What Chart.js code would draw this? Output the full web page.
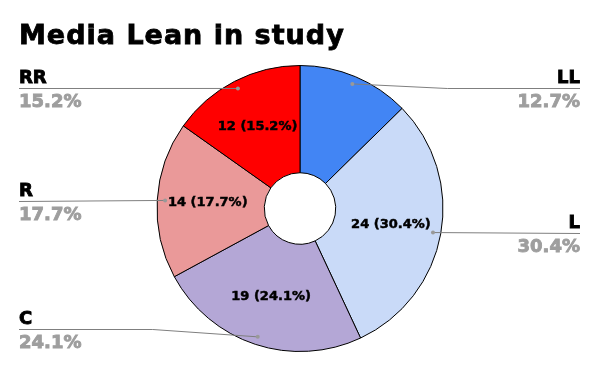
<!DOCTYPE html>
<html><head><meta charset="utf-8">
<script src="https://cdn.jsdelivr.net/npm/chart.js@4/dist/chart.umd.min.js"></script>
<style>html,body{margin:0;padding:0;background:#fff}#wrap{width:600px;height:371px;position:relative}</style>
</head><body><div id="wrap"><canvas id="c" width="600" height="371"></canvas></div>
<script>
const title = 'Media Lean in study';
const categories = ['LL', 'L', 'C', 'R', 'RR'];
const counts = [10, 24, 19, 14, 12];
const percentLabels = ['12.7%', '30.4%', '24.1%', '17.7%', '15.2%'];
const colors = ['#4285f4', '#c9daf8', '#b4a7d6', '#ea9999', '#ff0000'];

// label layout (leader line y and side)
const labelLayout = {
  LL: {side: 'right', y: 88},
  L:  {side: 'right', y: 233},
  C:  {side: 'left',  y: 329},
  R:  {side: 'left',  y: 201},
  RR: {side: 'left',  y: 88}
};

const overlay = {
  id: 'overlay',
  afterDraw(chart) {
    const ctx = chart.ctx;
    ctx.save();
    // title
    ctx.font = 'bold 27px "DejaVu Sans"';
    ctx.letterSpacing = '1px';
    ctx.fillStyle = '#000';
    ctx.strokeStyle = '#000';
    ctx.lineWidth = 0.8;
    ctx.textAlign = 'left';
    ctx.textBaseline = 'alphabetic';
    ctx.fillText(title, 19, 44);
    ctx.strokeText(title, 19, 44);
    ctx.letterSpacing = '0px';

    const meta = chart.getDatasetMeta(0);
    const total = counts.reduce((a, b) => a + b, 0);
    meta.data.forEach((arc, i) => {
      const mid = (arc.startAngle + arc.endAngle) / 2;
      const rIn = arc.innerRadius, rOut = arc.outerRadius;
      const share = counts[i] / total;
      // inner value label (hidden for small slices)
      if (share >= 0.14) {
        const rl = (rIn + rOut) / 2 + 3;
        const lx = arc.x + Math.cos(mid) * rl;
        const ly = arc.y + Math.sin(mid) * rl;
        ctx.font = 'bold 13px "DejaVu Sans"';
        ctx.fillStyle = '#000';
        ctx.strokeStyle = '#000';
        ctx.lineWidth = 0.5;
        ctx.textAlign = 'center';
        ctx.textBaseline = 'middle';
        const t = counts[i] + ' (' + (share * 100).toFixed(1) + '%)';
        ctx.fillText(t, lx, ly);
        ctx.strokeText(t, lx, ly);
      }

      // leader
      const lay = labelLayout[categories[i]];
      const rd = rOut * 0.945;
      const dx = arc.x + Math.cos(mid) * rd;
      const dy = arc.y + Math.sin(mid) * rd;
      const edgeX = lay.side === 'left' ? 19 : 580;
      ctx.strokeStyle = '#7f7f7f';
      ctx.lineWidth = 1;
      ctx.beginPath();
      ctx.moveTo(edgeX, lay.y + 0.5);
      if (Math.abs(dy - lay.y) > 2) {
        const elbow = lay.side === 'left' ? dx - 105 : dx + 95;
        ctx.lineTo(elbow, lay.y + 0.5);
      }
      ctx.lineTo(dx, dy);
      ctx.stroke();
      ctx.fillStyle = '#999999';
      ctx.beginPath();
      ctx.arc(dx, dy, 2, 0, Math.PI * 2);
      ctx.fill();

      ctx.textAlign = lay.side === 'left' ? 'left' : 'right';
      ctx.textBaseline = 'alphabetic';
      ctx.font = 'bold 18px "DejaVu Sans"';
      ctx.fillStyle = '#000';
      ctx.strokeStyle = '#000';
      ctx.lineWidth = 0.9;
      ctx.fillText(categories[i], edgeX, lay.y - 5);
      ctx.strokeText(categories[i], edgeX, lay.y - 5);
      ctx.fillStyle = '#9e9e9e';
      ctx.strokeStyle = '#9e9e9e';
      ctx.fillText(percentLabels[i], edgeX, lay.y + 19);
      ctx.strokeText(percentLabels[i], edgeX, lay.y + 19);
    });
    ctx.restore();
  }
};

new Chart(document.getElementById('c'), {
  type: 'doughnut',
  data: {
    labels: categories,
    datasets: [{
      data: counts,
      backgroundColor: colors,
      borderColor: '#000',
      borderWidth: 1,
      borderAlign: 'center'
    }]
  },
  options: {
    responsive: false,
    animation: false,
    cutout: '25%',
    layout: {padding: {top: 65, bottom: 19, left: 0, right: 0}},
    plugins: {legend: {display: false}, tooltip: {enabled: false}, title: {display: false}},
    events: []
  },
  plugins: [overlay]
});
</script>
</body></html>
